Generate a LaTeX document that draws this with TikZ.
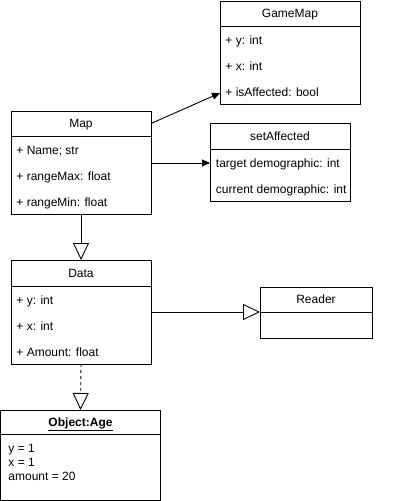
\documentclass[tikz,border=0pt]{standalone}
\usepackage{fontspec}
\setmainfont{Liberation Sans}
\usetikzlibrary{calc}
\usetikzlibrary{positioning}
\usetikzlibrary{arrows.meta}

\begin{document}
\begin{tikzpicture}[x=1pt, y=1pt, line width=.9pt, font=\fontsize{12}{14}\selectfont,
 box/.style={draw, rectangle, outer sep=0, inner sep=0, text height=8.6pt, text depth=0pt},
 row/.style={anchor=west, inner sep=0, text height=8.6pt, text depth=0pt},
 assoc/.style={-{Triangle[length=8pt,width=7pt]}},
 inherit/.style={-{Triangle[open,length=17pt,width=16pt]}},
 realize/.style={inherit, dashed}]
\useasboundingbox (0,0) rectangle (401,-501);
% GameMap
\node[box, anchor=north west, minimum width=140, minimum height=25] (gmHead) at (220,-1) {GameMap};
\node[box, below=0pt of gmHead, minimum width=140, minimum height=78] (gmBody) {};
\foreach \t [count=\i] in {{+ y: int},{+ x: int},{+ isAffected: bool}}
 \node[row] (gm\i) at ($(gmBody.north west)+(5,{-14-26*(\i-1)})$) {\t};
% setAffected
\node[box, anchor=north west, minimum width=140, minimum height=26] (saHead) at (210,-123) {setAffected};
\node[box, below=0pt of saHead, minimum width=140, minimum height=52] (saBody) {};
\foreach \t [count=\i] in {{target demographic: int},{current demographic: int}}
 \node[row] (sa\i) at ($(saBody.north west)+(5.5,{-14-26*(\i-1)})$) {\t};
% Map
\node[box, anchor=north west, minimum width=140, minimum height=25] (mapHead) at (11,-111) {Map};
\node[box, below=0pt of mapHead, minimum width=140, minimum height=78] (mapBody) {};
\foreach \t [count=\i] in {{+ Name; str},{+ rangeMax: float},{+ rangeMin: float}}
 \node[row] (map\i) at ($(mapBody.north west)+(5,{-14-26*(\i-1)})$) {\t};
% Data
\node[box, anchor=north west, minimum width=140, minimum height=26] (dataHead) at (11,-260) {Data};
\node[box, below=0pt of dataHead, minimum width=140, minimum height=78] (dataBody) {};
\foreach \t [count=\i] in {{+ y: int},{+ x: int},{+ Amount: float}}
 \node[row] (data\i) at ($(dataBody.north west)+(5,{-14-26*(\i-1)})$) {\t};
% Reader
\node[box, anchor=north west, minimum width=112, minimum height=25] (readerHead) at (260,-287) {Reader};
\node[box, below=0pt of readerHead, minimum width=112, minimum height=26] (readerBody) {};
% Object:Age
\node[box, anchor=north west, minimum width=160, minimum height=24] (objHead) at (0.5,-410) {\textbf{\underline{Object:Age}}};
\node[box, below=0pt of objHead, minimum width=160, minimum height=66] (objBody) {};
\node[anchor=north west, align=left, inner sep=0] (objVals)
 at ($(objBody.north west)+(7.5,-9.5)$) {y = 1\\x = 1\\amount = 20};
% connectors
\draw[assoc] (mapHead.east) -- ([yshift=11pt]gmBody.south west);
\draw[assoc] (mapBody.east |- sa1) -- (saBody.west |- sa1);
\draw[inherit] (mapBody.south) -- (dataHead.north);
\draw[inherit] (dataBody.east |- readerHead.south) -- (readerHead.south west);
\draw[realize] (dataBody.south) -- (objHead.north);
\end{tikzpicture}
\end{document}
